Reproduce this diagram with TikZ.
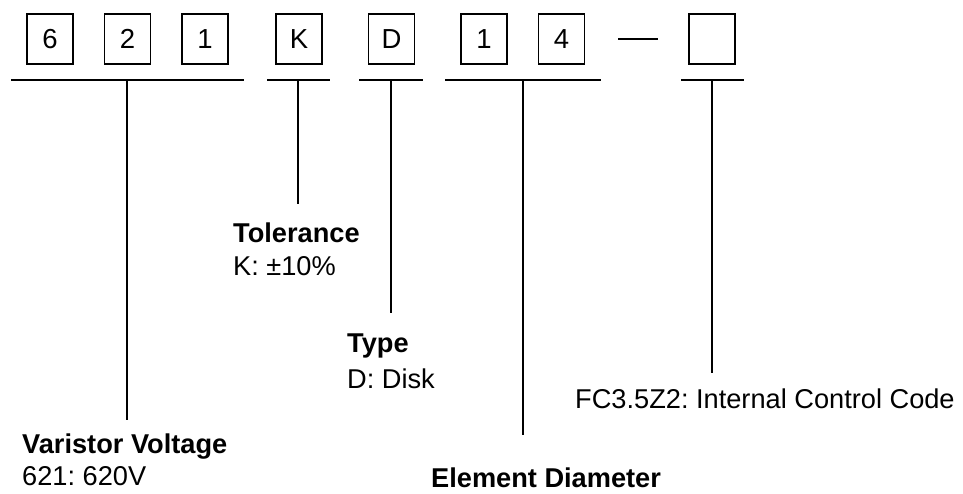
\documentclass[tikz,border=0pt]{standalone}
\usepackage{fontspec}
\setmainfont{Liberation Sans}
\frenchspacing
\begin{document}
\begin{tikzpicture}[x=1pt,y=-1pt,
  digit/.style={draw,line width=1.2pt,minimum width=46pt,minimum height=50pt,inner sep=0pt,font=\fontsize{27.5}{31}\selectfont},
  lbl/.style={anchor=base west,inner sep=0pt,font=\fontsize{27.2}{31}\selectfont},
  blbl/.style={lbl,font=\fontsize{27.2}{31}\selectfont\bfseries},
  ln/.style={line width=1.2pt}]
\useasboundingbox (0,0) rectangle (963,493);
% boxes
\node[digit] (b6) at (50,39) {6};
\node[digit] (b2) at (127.5,39) {2};
\node[digit] (b1) at (205,39) {1};
\node[digit] (bK) at (299,39) {K};
\node[digit] (bD) at (391.5,39) {D};
\node[digit] (c1) at (484,39) {1};
\node[digit] (c4) at (561.5,39) {4};
\node[digit] (be) at (712,39) {};
\coordinate (dashL) at (618,39);
\coordinate (dashR) at (658,39);
\draw[ln] (dashL) -- (dashR);
% horizontal brackets
\coordinate (h1a) at (11,80);  \coordinate (h1b) at (244,80);
\coordinate (h2a) at (267,80); \coordinate (h2b) at (330,80);
\coordinate (h3a) at (359,80); \coordinate (h3b) at (423,80);
\coordinate (h4a) at (445,80); \coordinate (h4b) at (601,80);
\coordinate (h5a) at (681,80); \coordinate (h5b) at (744,80);
\draw[ln] (h1a) -- (h1b);
\draw[ln] (h2a) -- (h2b);
\draw[ln] (h3a) -- (h3b);
\draw[ln] (h4a) -- (h4b);
\draw[ln] (h5a) -- (h5b);
% vertical stems
\coordinate (v1t) at (127,80); \coordinate (v1b) at (127,420);
\coordinate (v2t) at (298,80); \coordinate (v2b) at (298,204);
\coordinate (v3t) at (391,80); \coordinate (v3b) at (391,313);
\coordinate (v4t) at (523,80); \coordinate (v4b) at (523,435);
\coordinate (v5t) at (712,80); \coordinate (v5b) at (712,373);
\draw[ln] (v1t) -- (v1b);
\draw[ln] (v2t) -- (v2b);
\draw[ln] (v3t) -- (v3b);
\draw[ln] (v4t) -- (v4b);
\draw[ln] (v5t) -- (v5b);
% labels
\node[blbl] (tolT) at (233,242) {Tolerance};
\node[lbl] (tolV) at (233,275) {K: ±10\%};
\node[blbl] (typT) at (347,352) {Type};
\node[lbl] (typV) at (347,388) {D: Disk};
\node[lbl] (fc) at (575,408) {FC3.5Z2: Internal Control Code};
\node[blbl] (varT) at (22,453) {Varistor Voltage};
\node[lbl] (varV) at (22,485) {621: 620V};
\node[blbl] (elT) at (431,487) {Element Diameter};
\end{tikzpicture}
\end{document}
